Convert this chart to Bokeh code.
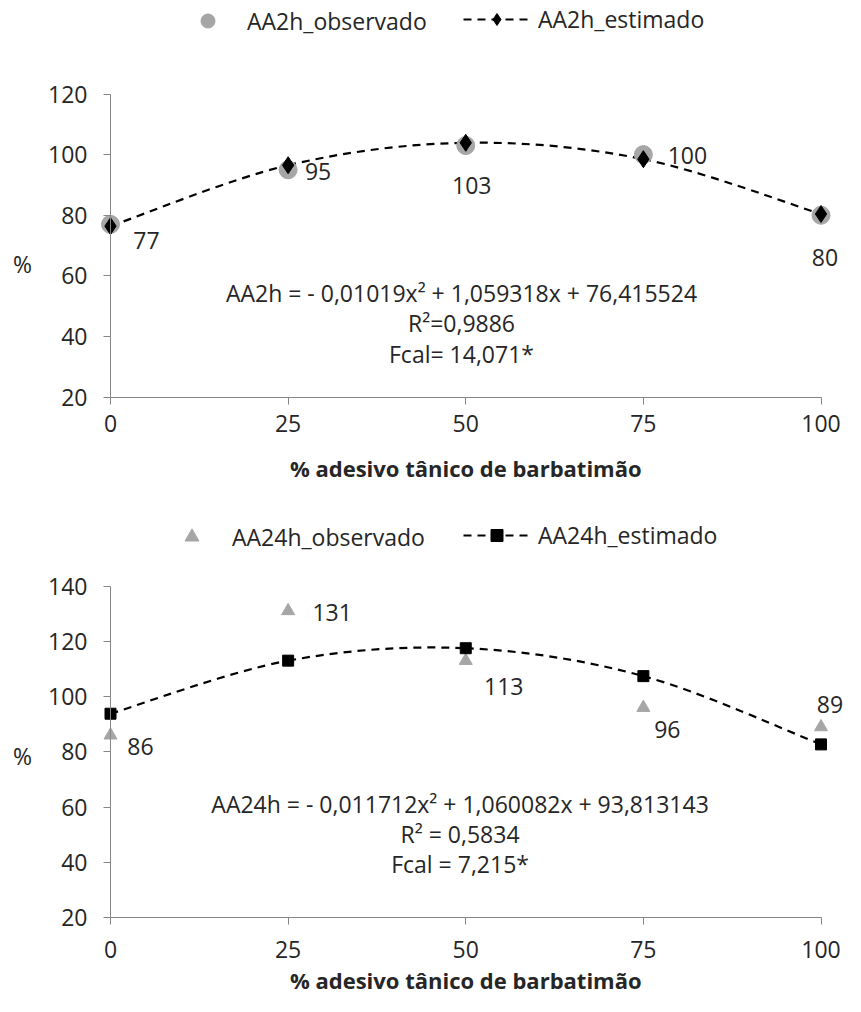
from bokeh.plotting import figure
from bokeh.models import Range1d, FixedTicker, Label, LabelSet, ColumnDataSource, Legend, LegendItem
from bokeh.core.properties import value
from bokeh.layouts import column
from bokeh.embed import file_html
from bokeh.resources import INLINE

# ---------------- data ----------------
x_vals = [0, 25, 50, 75, 100]
x_ticks = [0, 25, 50, 75, 100]

obs_2h = [77, 95, 103, 100, 80]
est_2h = [76.4, 96.5, 103.9, 98.5, 80.4]
y_ticks_2h = [20, 40, 60, 80, 100, 120]

obs_24h = [86, 131, 113, 96, 89]
est_24h = [93.8, 113.0, 117.5, 107.4, 82.7]
y_ticks_24h = [20, 40, 60, 80, 100, 120, 140]

names_2h = ["AA2h_observado", "AA2h_estimado"]
names_24h = ["AA24h_observado", "AA24h_estimado"]

eq_2h = ["AA2h = - 0,01019x\u00b2 + 1,059318x + 76,415524", "R\u00b2=0,9886", "Fcal= 14,071*"]
eq_24h = ["AA24h = - 0,011712x\u00b2 + 1,060082x + 93,813143", "R\u00b2 = 0,5834", "Fcal = 7,215*"]

x_title = "% adesivo t\u00e2nico de barbatim\u00e3o"
y_title = "%"

# ---------------- style / layout ----------------
FONT = "Open Sans"
TXT = "#262626"
AXIS = "#868686"
GRAY = "#A6A6A6"
FS = "23px"
FS_EQ = "23px"
FS_TITLE = "22px"

W = 845
PX_PER_X = 7.105          # px per x unit
X0_PX = 110               # px from canvas left to x = 0
X_START = -X0_PX / PX_PER_X
X_END = X_START + W / PX_PER_X


def bezier_source(xs, ys, t=1.0 / 6.0):
    n = len(xs)
    d = dict(x0=[], y0=[], x1=[], y1=[], cx0=[], cy0=[], cx1=[], cy1=[])
    for i in range(n - 1):
        a = i - 1 if i > 0 else i
        b = i + 2 if i + 2 < n else i + 1
        d["x0"].append(xs[i]); d["y0"].append(ys[i])
        d["x1"].append(xs[i + 1]); d["y1"].append(ys[i + 1])
        d["cx0"].append(xs[i] + (xs[i + 1] - xs[a]) * t)
        d["cy0"].append(ys[i] + (ys[i + 1] - ys[a]) * t)
        d["cx1"].append(xs[i + 1] - (xs[b] - xs[i]) * t)
        d["cy1"].append(ys[i + 1] - (ys[b] - ys[i]) * t)
    return ColumnDataSource(d)


def make_chart(obs, est, yticks, names, eq_lines, L):
    H = L["height"]
    ppy = L["ppy"]                     # px per y unit
    y_start = yticks[0] - L["below"] / ppy
    y_end = y_start + H / ppy
    p = figure(width=W, height=H, output_backend="svg", toolbar_location=None,
               x_range=Range1d(X_START, X_END), y_range=Range1d(y_start, y_end),
               min_border=0)
    p.grid.visible = False
    p.outline_line_color = None
    p.background_fill_color = "white"
    p.border_fill_color = "white"

    xa = p.xaxis[0]
    ya = p.yaxis[0]
    xa.ticker = FixedTicker(ticks=x_ticks)
    xa.bounds = (x_ticks[0], x_ticks[-1])
    xa.fixed_location = yticks[0]
    ya.ticker = FixedTicker(ticks=yticks)
    ya.bounds = (yticks[0], yticks[-1])
    ya.fixed_location = x_ticks[0]
    for a in (xa, ya):
        a.axis_line_color = AXIS
        a.major_tick_line_color = AXIS
        a.major_tick_out = 7
        a.major_tick_in = 0
        a.minor_tick_line_color = None
        a.major_label_text_font = FONT
        a.major_label_text_font_size = FS
        a.major_label_text_color = TXT
    ya.major_label_standoff = 16
    xa.major_label_standoff = L["xstand"]

    curve = p.bezier(x0="x0", y0="y0", x1="x1", y1="y1", cx0="cx0", cy0="cy0",
                     cx1="cx1", cy1="cy1", source=bezier_source(x_vals, est),
                     line_color="black", line_width=2.2, line_dash="8 6")
    obs_r = p.scatter(x_vals, obs, marker=L["obs_marker"], size=L["obs_size"],
                      fill_color=GRAY, line_color=GRAY)
    est_r = p.scatter(x_vals, est, marker=L["est_marker"], size=L["est_size"],
                      fill_color="black", line_color="black")

    lab_src = ColumnDataSource(dict(x=x_vals, y=obs, t=[str(v) for v in obs],
                                    dx=L["dx"], dy=L["dy"]))
    p.add_layout(LabelSet(x="x", y="y", text="t", x_offset="dx", y_offset="dy", source=lab_src,
                          text_font=value(FONT), text_font_size=FS, text_color=TXT,
                          text_align="center", text_baseline="middle"))

    for line, yy in zip(eq_lines, L["eq_y"]):
        p.add_layout(Label(x=L["eq_x"], y=yy, text=line,
                           text_font=FONT, text_font_size=FS_EQ, text_color=TXT,
                           text_align="center", text_baseline="middle"))

    p.add_layout(Label(x=50, y=L["title_y"], text=x_title,
                       text_font=FONT, text_font_size=FS_TITLE, text_font_style="bold",
                       text_color=TXT, text_align="center", text_baseline="middle"))
    p.add_layout(Label(x=-12.4, y=L["pct_y"], text=y_title,
                       text_font=FONT, text_font_size=FS, text_color=TXT,
                       text_align="center", text_baseline="middle"))

    common = dict(padding=0, margin=0, border_line_color=None, background_fill_alpha=0,
                  label_text_font=FONT, label_text_font_size=FS, label_text_color=TXT,
                  spacing=0)
    leg1 = Legend(items=[LegendItem(label=names[0], renderers=[obs_r])],
                  location=(L["lx1"], L["ly1"]), glyph_width=35, glyph_height=35,
                  label_standoff=L["ls1"], **common)
    leg2 = Legend(items=[LegendItem(label=names[1], renderers=[curve, est_r])],
                  location=(L["lx2"], L["ly2"]), glyph_width=67, glyph_height=30,
                  label_standoff=8, **common)
    p.add_layout(leg1)
    p.add_layout(leg2)
    return p


# top chart canvas 0..502: y=20 at 396.6, y=120 at 93.5
L1 = dict(height=502, ppy=3.031, below=105.4, xstand=11,
          obs_marker="circle", obs_size=18, est_marker="diamond", est_size=17,
          dx=[36, 30, 6, 44, 4], dy=[-16, -2, -40, -1, -42],
          eq_x=49.4, eq_y=[54.5, 44.6, 34.1], title_y=-3.4, pct_y=63.8,
          lx1=190, ly1=464, ls1=22, lx2=463, ly2=467)
# bottom chart canvas 0..494: y=20 at 415.2, y=140 at 83.5
L2 = dict(height=494, ppy=2.764, below=78.8, xstand=16,
          obs_marker="triangle", obs_size=13, est_marker="square", est_size=11,
          dx=[30, 44, 38, 24, 9], dy=[-11, -2, -26, -22, 22],
          eq_x=49.2, eq_y=[61.0, 50.3, 39.6], title_y=-2.6, pct_y=78.4,
          lx1=174, ly1=442, ls1=23, lx2=463, ly2=445)

p1 = make_chart(obs_2h, est_2h, y_ticks_2h, names_2h, eq_2h, L1)
p2 = make_chart(obs_24h, est_24h, y_ticks_24h, names_24h, eq_24h, L2)

layout = column(p1, p2, spacing=0)
open("out.html", "w").write(file_html(layout, INLINE))
